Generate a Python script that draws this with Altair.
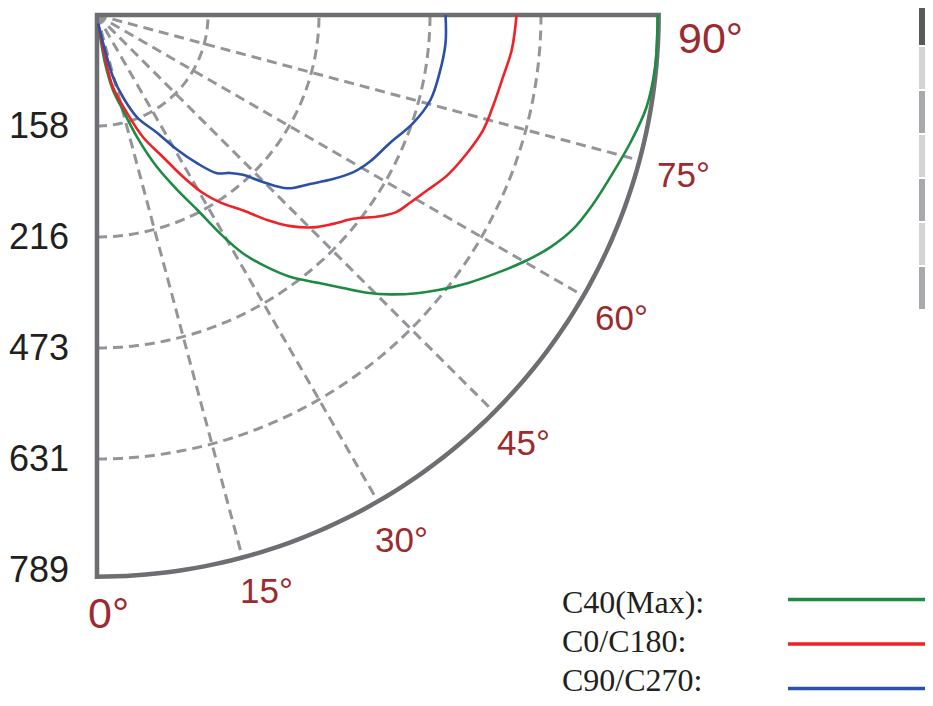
import altair as alt
import numpy as np
import pandas as pd

# ---------------- data ----------------
series_names = ["C40(Max)", "C0/C180", "C90/C270"]
legend_labels = ["C40(Max):", "C0/C180:", "C90/C270:"]
series_colors = ["#1d8b43", "#ee2227", "#2b50a6"]

# polar readings: angle in degrees (0 = straight down, 90 = horizontal), radius in ring units
green_deg = [8, 9.5, 12.0, 15.3, 18.2, 21.5, 24.6, 27.2, 29.4, 31.5, 34.0, 36.4, 39.4, 42.0,
             44.2, 46.4, 49.0, 51.0, 54.1, 57.4, 60.3, 62.9, 65.7, 69.0, 72.5, 76.5, 80.5, 84.7, 88.2, 90.0]
green_r = [0.08, 0.44, 0.69, 0.89, 1.16, 1.47, 1.73, 1.97, 2.26, 2.52, 2.74, 2.93, 3.12, 3.31,
           3.49, 3.65, 3.82, 3.94, 4.12, 4.30, 4.46, 4.59, 4.70, 4.78, 4.85, 4.94, 5.02, 5.05, 5.05, 5.05]

red_deg = [8, 10.8, 12.5, 17.0, 20.7, 24.9, 28.0, 30.8, 33.3, 36.8, 39.7, 42.5, 45.5, 48.5,
           51.5, 54.6, 56.7, 59.1, 62.1, 65.4, 69.6, 73.4, 76.9, 81.3, 85.2, 90.0]
red_r = [0.08, 0.39, 0.67, 0.92, 1.18, 1.41, 1.65, 1.87, 2.02, 2.20, 2.40, 2.58, 2.73, 2.84,
         2.95, 3.13, 3.23, 3.29, 3.37, 3.47, 3.56, 3.63, 3.66, 3.70, 3.75, 3.78]

blue_deg = [8, 12.9, 14.5, 17.6, 21.4, 27.0, 30.7, 34.0, 37.2, 40.1, 42.4, 44.8, 47.7, 51.6,
            55.2, 58.5, 61.7, 66.4, 71.1, 75.7, 80.4, 85.4, 90.0]
blue_r = [0.08, 0.32, 0.58, 0.78, 0.99, 1.19, 1.41, 1.61, 1.79, 1.86, 1.95, 2.12, 2.32, 2.45,
          2.59, 2.71, 2.79, 2.88, 3.01, 3.10, 3.13, 3.15, 3.14]

ring_labels = ["158", "216", "473", "631", "789"]
angle_ticks = [0, 15, 30, 45, 60, 75, 90]
angle_tick_labels = ["0°", "15°", "30°", "45°", "60°", "75°", "90°"]
side_bar_shades = ["#58595b", "#d1d3d4", "#a7a9ac", "#d1d3d4", "#a7a9ac", "#d1d3d4", "#a7a9ac"]

# ---------------- geometry helpers ----------------
UNIT = 111.0          # pixels per ring
W, H = 917, 690       # plot area (fits the 933x706 window with the 8px page margin)
PAGE_OX, PAGE_OY = 97, 15   # pole position on the page
R_OUT = 5.06
RIGHT = 8 + W
BOTTOM = 8 + H


def page(xp, yp):
    """page pixel -> data units"""
    return (xp - PAGE_OX) / UNIT, (PAGE_OY - yp) / UNIT


def polar(deg, r):
    t = np.deg2rad(deg)
    return r * np.sin(t), -r * np.cos(t)


x_dom = [page(8, 0)[0], page(RIGHT, 0)[0]]
y_dom = [page(0, BOTTOM)[1], page(0, 8)[1]]
xs = alt.Scale(domain=x_dom, nice=False, zero=False)
ys = alt.Scale(domain=y_dom, nice=False, zero=False)
X = lambda f: alt.X(f, type="quantitative", scale=xs, axis=None)
Y = lambda f: alt.Y(f, type="quantitative", scale=ys, axis=None)

GRID = "#939598"
FRAME = "#6d6e71"
ANG = "#9b2b2e"
INK = "#231f20"

# ---------------- grid rings ----------------
rows = []
for k in range(1, 5):
    for i, a in enumerate(np.arange(0, 90.5, 1.0)):
        x, y = polar(a, k)
        rows.append({"ring": k, "i": i, "x": x, "y": y})
ring_df = pd.DataFrame(rows)
rings = alt.Chart(ring_df).mark_line(color=GRID, strokeWidth=3, strokeDash=[10, 6]).encode(
    x=X("x"), y=Y("y"), detail="ring:N", order="i:Q")

# ---------------- spokes ----------------
sp = []
for a in angle_ticks[1:-1]:
    x2, y2 = polar(a, R_OUT)
    sp.append({"x": 0.0, "y": 0.0, "x2": x2, "y2": y2})
spokes = alt.Chart(pd.DataFrame(sp)).mark_rule(color=GRID, strokeWidth=3, strokeDash=[10, 6]).encode(
    x=X("x"), y=Y("y"), x2="x2:Q", y2="y2:Q")

# ---------------- frame ----------------
fr = [{"i": 0, "x": R_OUT, "y": 0.0}, {"i": 1, "x": 0.0, "y": 0.0}]
for j, a in enumerate(np.arange(0, 90.5, 1.0)):
    x, y = polar(a, R_OUT)
    fr.append({"i": j + 2, "x": x, "y": y})
frame = alt.Chart(pd.DataFrame(fr)).mark_line(color=FRAME, strokeWidth=4.5, strokeJoin="miter",
                                                strokeCap="square").encode(
    x=X("x"), y=Y("y"), order="i:Q")

# ---------------- curves ----------------
cr = []
for name, degs, rs in zip(series_names, [green_deg, red_deg, blue_deg], [green_r, red_r, blue_r]):
    for i, (a, r) in enumerate(zip(degs, rs)):
        x, y = polar(a, r)
        cr.append({"series": name, "i": i, "x": x, "y": y})
curve_df = pd.DataFrame(cr)
curves = alt.Chart(curve_df).mark_line(strokeWidth=2.6, interpolate="catmull-rom").encode(
    x=X("x"), y=Y("y"), order="i:Q",
    color=alt.Color("series:N", scale=alt.Scale(domain=series_names, range=series_colors), legend=None))

# ---------------- radial labels ----------------
rl_df = pd.DataFrame({"label": ring_labels, "x": 0.0, "y": [-(k + 1) for k in range(len(ring_labels))]})
radial_text = alt.Chart(rl_df).mark_text(align="right", baseline="alphabetic", dx=-28, dy=12,
                                         font="Liberation Sans", fontSize=36, color=INK).encode(
    x=X("x"), y=Y("y"), text="label:N")

# ---------------- angle labels ----------------
ang_pos = [(88, 628), (240, 603), (375, 552), (497, 455), (595, 330), (657, 187), (678, 53)]
ang_size = [43, 35, 35, 35, 35, 35, 43]
al = []
for lab, (px_, py_), fs in zip(angle_tick_labels, ang_pos, ang_size):
    x, y = page(px_, py_)
    al.append({"label": lab, "x": x, "y": y, "fs": fs})
angle_text = alt.Chart(pd.DataFrame(al)).mark_text(align="left", baseline="alphabetic",
                                                   font="Liberation Sans", color=ANG).encode(
    x=X("x"), y=Y("y"), text="label:N", size=alt.Size("fs:Q", scale=None))

# ---------------- legend ----------------
lg = []
for i, (lab, col) in enumerate(zip(legend_labels, series_colors)):
    tx, ty = page(562, 613 + 39 * i)
    lx1, ly = page(788, 599.5 + 44.5 * i)
    lx2, _ = page(RIGHT, 0)
    lg.append({"label": lab, "color": col, "tx": tx, "ty": ty, "lx1": lx1, "lx2": lx2, "ly": ly})
lg_df = pd.DataFrame(lg)
legend_text = alt.Chart(lg_df).mark_text(align="left", baseline="alphabetic", font="Liberation Serif",
                                         fontSize=32, color=INK).encode(
    x=X("tx"), y=Y("ty"), text="label:N")
legend_lines = alt.Chart(lg_df).mark_rule(strokeWidth=3.5).encode(
    x=X("lx1"), x2="lx2:Q", y=Y("ly"), color=alt.Color("color:N", scale=None))

# ---------------- side bar (cut by the page edge) ----------------
sb = []
for i, c in enumerate(side_bar_shades):
    x1, y1 = page(RIGHT - 6, 3 + 44 * i)
    x2, y2 = page(RIGHT, 45 + 44 * i)
    sb.append({"x1": x1, "x2": x2, "y1": y1, "y2": y2, "c": c})
side_bar = alt.Chart(pd.DataFrame(sb)).mark_rect().encode(
    x=X("x1"), x2="x2:Q", y=Y("y1"), y2="y2:Q", color=alt.Color("c:N", scale=None))

chart = alt.layer(rings, spokes, frame, curves, radial_text, angle_text, legend_text, legend_lines,
                  side_bar).properties(
    width=W, height=H, padding=0, autosize=alt.AutoSizeParams(type="none"),
    background="white").configure_view(strokeWidth=0)

chart.save("out.html", embed_options={"renderer": "svg", "actions": False})
